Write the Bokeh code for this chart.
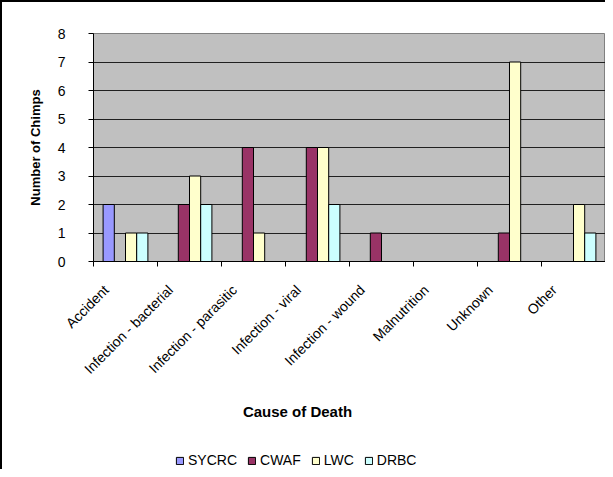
import math
from bokeh.plotting import figure
from bokeh.layouts import column
from bokeh.models import (Range1d, FixedTicker, Legend, LegendItem, Label,
                          ColumnDataSource)
from bokeh.embed import file_html
from bokeh.resources import INLINE

# ---- data ----
categories = ["Accident", "Infection - bacterial", "Infection - parasitic",
              "Infection - viral", "Infection - wound", "Malnutrition",
              "Unknown", "Other"]
series_names = ["SYCRC", "CWAF", "LWC", "DRBC"]
sycrc = [2, 0, 0, 0, 0, 0, 0, 0]
cwaf = [0, 2, 4, 4, 1, 0, 1, 0]
lwc = [1, 3, 1, 4, 0, 0, 7, 2]
drbc = [1, 2, 0, 2, 0, 0, 0, 1]
y_ticks = [0, 1, 2, 3, 4, 5, 6, 7, 8]
colors = ["#9999FF", "#993366", "#FFFFCC", "#CCFFFF"]

FONT = "Liberation Sans"
n = len(categories)
bar_w = 0.175
offsets = [-1.5 * bar_w, -0.5 * bar_w, 0.5 * bar_w, 1.5 * bar_w]

W = 603
H_MAIN = 389
H_BOTTOM = 78
LEFT = 91

# ---------------- main chart ----------------
p = figure(width=W, height=H_MAIN, x_range=Range1d(0, n), y_range=Range1d(0, 8),
           output_backend="svg", toolbar_location=None, title=None,
           min_border_left=LEFT, min_border_top=31, min_border_right=0,
           min_border_bottom=130)
p.background_fill_color = "#C0C0C0"
p.border_fill_color = "white"
p.outline_line_color = "#808080"

sources = []
for name, vals, col, off in zip(series_names, [sycrc, cwaf, lwc, drbc], colors, offsets):
    xs = [i + 0.5 + off for i, v in enumerate(vals) if v > 0]
    tops = [v for v in vals if v > 0]
    src = ColumnDataSource(dict(x=xs, top=tops))
    sources.append(src)
    p.vbar(x="x", top="top", bottom=0, width=bar_w, source=src,
           fill_color=col, line_color="black", line_width=1)

p.xgrid.visible = False
p.ygrid.ticker = FixedTicker(ticks=y_ticks)
p.ygrid.grid_line_color = "#202020"
p.ygrid.grid_line_width = 1

ya = p.yaxis[0]
ya.ticker = FixedTicker(ticks=y_ticks)
ya.axis_line_color = "black"
ya.major_tick_out = 5
ya.major_tick_in = 0
ya.minor_tick_out = 0
ya.minor_tick_in = 0
ya.major_label_standoff = 23
ya.major_label_text_font = FONT
ya.major_label_text_font_size = "14px"
ya.major_label_text_color = "black"
ya.axis_label = "Number of Chimps"
ya.axis_label_text_font = FONT
ya.axis_label_text_font_size = "13px"
ya.axis_label_text_font_style = "bold"
ya.axis_label_text_color = "black"
ya.axis_label_standoff = 12

xa = p.xaxis[0]
label_pos = [i + 0.2 for i in range(n)]
xa.ticker = FixedTicker(ticks=label_pos, minor_ticks=list(range(n + 1)))
xa.major_label_overrides = {pos: c for pos, c in zip(label_pos, categories)}
xa.major_label_orientation = math.pi / 4
xa.major_tick_out = 0
xa.major_tick_in = 0
xa.minor_tick_out = 5
xa.minor_tick_in = 0
xa.minor_tick_line_color = "black"
xa.axis_line_color = "black"
xa.major_label_standoff = 21
xa.major_label_text_font = FONT
xa.major_label_text_font_size = "14px"
xa.major_label_text_color = "black"

# ---------------- axis title + legend strip ----------------
# x range in pixels of the strip, aligned with the main frame
p2 = figure(width=W, height=H_BOTTOM, x_range=Range1d(LEFT, W), y_range=Range1d(0, H_BOTTOM),
            output_backend="svg", toolbar_location=None, title=None,
            x_axis_location=None, y_axis_location=None, min_border=0,
            min_border_left=LEFT)
p2.grid.visible = False
p2.outline_line_color = None
p2.background_fill_color = "white"
p2.border_fill_color = "white"

p2.add_layout(Label(x=295, y=H_BOTTOM - 20, text="Cause of Death",
                    text_font=FONT, text_font_size="15px",
                    text_font_style="bold", text_color="black",
                    text_align="center", text_baseline="middle"))

# hidden copies of the series, used only for the legend keys
legend_renderers = []
for src, col in zip(sources, colors):
    r = p2.vbar(x="x", top="top", width=bar_w, source=src, fill_color=col,
                line_color="black", line_width=1)
    r.visible = False
    legend_renderers.append(r)

legend = Legend(items=[LegendItem(label=nm, renderers=[r])
                       for nm, r in zip(series_names, legend_renderers)],
                orientation="horizontal", location=(82, 1),
                glyph_width=9, glyph_height=9, label_height=14,
                label_standoff=4, spacing=10,
                padding=0, margin=0, border_line_color=None,
                background_fill_alpha=0, inactive_fill_alpha=0,
                label_text_font=FONT, label_text_font_size="14px",
                label_text_color="black")
p2.add_layout(legend, "center")

layout = column(p, p2, spacing=0)
layout.styles = {"border-left": "2px solid black", "border-top": "2px solid black"}
open("out.html", "w").write(file_html(layout, INLINE))
